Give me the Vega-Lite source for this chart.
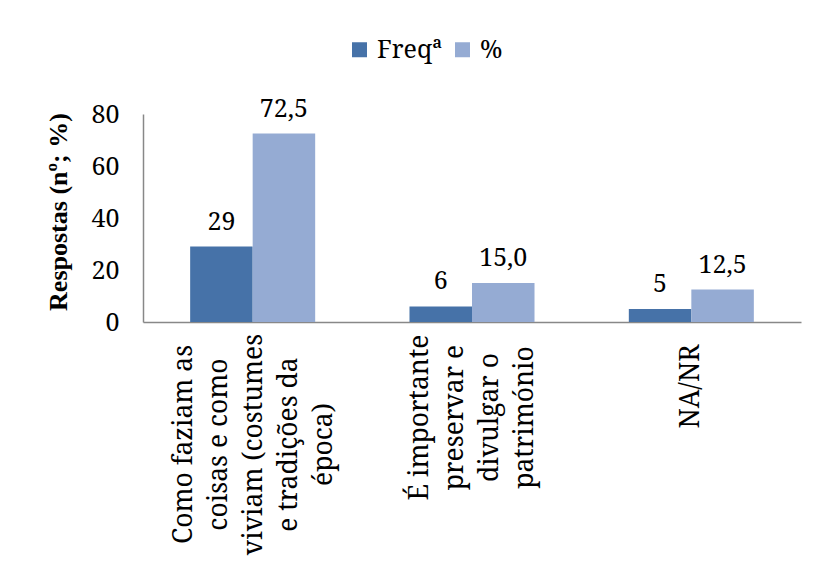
{
  "$schema": "https://vega.github.io/schema/vega-lite/v6.json",
  "width": 658,
  "height": 208,
  "autosize": "none",
  "padding": {"left": 143, "top": 114, "right": 20, "bottom": 240},
  "background": "white",
  "config": {
    "font": "Noto Serif",
    "view": {"stroke": null},
    "locale": {"number": {"decimal": ",", "thousands": ".", "grouping": [3], "currency": ["", " €"]}},
    "axis": {
      "domainColor": "#888888",
      "domainWidth": 1.5,
      "ticks": false,
      "tickSize": 0,
      "grid": false,
      "labelColor": "black",
      "labelFont": "Noto Serif",
      "titleColor": "black"
    }
  },
  "data": {
    "values": [
      {"categoria": "Como faziam as|coisas e como|viviam (costumes|e tradições da|época)", "serie": "Freqª", "valor": 29},
      {"categoria": "Como faziam as|coisas e como|viviam (costumes|e tradições da|época)", "serie": "%", "valor": 72.5},
      {"categoria": "É importante|preservar e|divulgar o|património", "serie": "Freqª", "valor": 6},
      {"categoria": "É importante|preservar e|divulgar o|património", "serie": "%", "valor": 15.0},
      {"categoria": "NA/NR", "serie": "Freqª", "valor": 5},
      {"categoria": "NA/NR", "serie": "%", "valor": 12.5}
    ]
  },
  "encoding": {
    "y": {
      "field": "valor",
      "type": "quantitative",
      "scale": {"domain": [0, 80], "nice": false},
      "axis": {
        "values": [0, 20, 40, 60, 80],
        "title": "Respostas (nº; %)",
        "titleFont": "Liberation Serif",
        "titleFontSize": 26,
        "titleFontWeight": "bold",
        "titleAngle": 270,
        "titleAlign": "center",
        "titleBaseline": "alphabetic",
        "titleX": -77,
        "titleY": 97.5,
        "labelFontSize": 25,
        "labelPadding": 24,
        "domain": true
      }
    },
    "xOffset": {
      "field": "serie",
      "type": "nominal",
      "scale": {"domain": ["Freqª", "%"], "paddingInner": 0, "paddingOuter": 0}
    }
  },
  "resolve": {"axis": {"x": "independent"}},
  "layer": [
    {
      "mark": {"type": "bar"},
      "encoding": {
        "x": {
          "field": "categoria",
          "type": "nominal",
          "scale": {
            "domain": [
              "Como faziam as|coisas e como|viviam (costumes|e tradições da|época)",
              "É importante|preservar e|divulgar o|património",
              "NA/NR"
            ],
            "paddingInner": 0.43,
            "paddingOuter": 0.215
          },
          "axis": {
            "orient": "bottom",
            "values": ["Como faziam as|coisas e como|viviam (costumes|e tradições da|época)"],
            "title": null,
            "domain": true,
            "labelExpr": "split(datum.label, '|')",
            "labelAngle": -90,
            "labelAlign": "center",
            "labelBaseline": "middle",
            "labelFontSize": 26.5,
            "labelLineHeight": 35,
            "labelLimit": 0,
            "labelOverlap": false,
            "labelOffset": -69,
            "labelPadding": 122
          }
        },
        "color": {
          "field": "serie",
          "type": "nominal",
          "scale": {"domain": ["Freqª", "%"], "range": ["#4672A8", "#95ABD3"]},
          "legend": {
            "orient": "none",
            "legendX": 204,
            "legendY": -77,
            "direction": "horizontal",
            "title": null,
            "symbolType": "square",
            "symbolSize": 225,
            "symbolStrokeWidth": 0,
            "labelFont": "Noto Serif",
            "labelFontSize": 25,
            "labelColor": "black",
            "labelOffset": 5,
            "columnPadding": 8,
            "padding": 0
          }
        }
      }
    },
    {
      "transform": [{"filter": "datum.serie === 'Freqª'"}],
      "mark": {"type": "text", "baseline": "alphabetic", "dy": -17, "fontSize": 25, "font": "Noto Serif", "color": "black"},
      "encoding": {
        "x": {
          "field": "categoria",
          "type": "nominal",
          "axis": {
            "orient": "bottom",
            "values": ["É importante|preservar e|divulgar o|património"],
            "title": null,
            "domain": false,
            "labelExpr": "split(datum.label, '|')",
            "labelAngle": -90,
            "labelAlign": "center",
            "labelBaseline": "middle",
            "labelFontSize": 26.5,
            "labelLineHeight": 35,
            "labelLimit": 0,
            "labelOverlap": false,
            "labelOffset": -52.5,
            "labelPadding": 95
          }
        },
        "text": {"field": "valor", "type": "quantitative", "format": "d"}
      }
    },
    {
      "transform": [{"filter": "datum.serie === '%'"}],
      "mark": {"type": "text", "baseline": "alphabetic", "dy": -17, "fontSize": 25, "font": "Noto Serif", "color": "black"},
      "encoding": {
        "x": {
          "field": "categoria",
          "type": "nominal",
          "axis": {
            "orient": "bottom",
            "values": ["NA/NR"],
            "title": null,
            "domain": false,
            "labelExpr": "split(datum.label, '|')",
            "labelAngle": -90,
            "labelAlign": "center",
            "labelBaseline": "middle",
            "labelFontSize": 26.5,
            "labelLineHeight": 35,
            "labelLimit": 0,
            "labelOverlap": false,
            "labelPadding": 64
          }
        },
        "text": {"field": "valor", "type": "quantitative", "format": ".1f"}
      }
    }
  ]
}
